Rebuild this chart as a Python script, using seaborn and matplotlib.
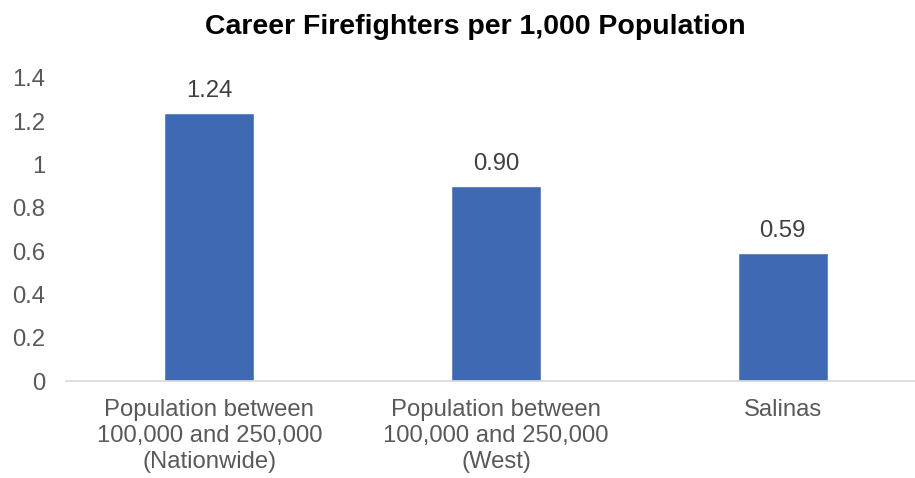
import matplotlib
matplotlib.use("Agg")
import matplotlib.pyplot as plt
import seaborn as sns
import pandas as pd

categories = ["Population between\n100,000 and 250,000\n(Nationwide)",
              "Population between\n100,000 and 250,000\n(West)",
              "Salinas"]
values = [1.24, 0.90, 0.59]
value_labels = ["1.24", "0.90", "0.59"]
yticks = [0, 0.2, 0.4, 0.6, 0.8, 1.0, 1.2, 1.4]
ytick_labels = ["0", "0.2", "0.4", "0.6", "0.8", "1", "1.2", "1.4"]
title = "Career Firefighters per 1,000 Population"

sns.set_style("white")
plt.rcParams['font.family'] = ['Liberation Sans', 'DejaVu Sans']

fig = plt.figure(figsize=(9.15, 4.78), dpi=100)
ax = fig.add_axes([66/915, 97/478, 860/915, 303/478])

df = pd.DataFrame({"cat": categories, "val": values})
sns.barplot(data=df, x="cat", y="val", color="#3F6AB3", saturation=1,
            width=0.315, ax=ax)

fs = 17.2
ax.set_ylim(0, 1.4)
ax.set_xlim(-0.5, 2.5)
ax.set_yticks(yticks)
ax.set_yticklabels(ytick_labels)
ax.set_xlabel("")
ax.set_ylabel("")
for s in ["top", "right", "left"]:
    ax.spines[s].set_visible(False)
ax.spines["bottom"].set_color("#D9D9D9")
ax.spines["bottom"].set_linewidth(1.2)
ax.tick_params(axis="both", length=0, labelsize=fs, colors="#595959")
ax.tick_params(axis="y", pad=15)
ax.tick_params(axis="x", pad=13)
for lab in ax.get_xticklabels():
    lab.set_linespacing(1.22)

for i, (v, t) in enumerate(zip(values, value_labels)):
    ax.annotate(t, (i, v), xytext=(0, 8), textcoords="offset points",
                ha="center", va="bottom", fontsize=fs, color="#404040")

fig.text(0.519, 0.944, title, ha="center", va="center", fontsize=20.5,
         fontweight="bold", color="black")

fig.savefig("out.png", dpi=100)
